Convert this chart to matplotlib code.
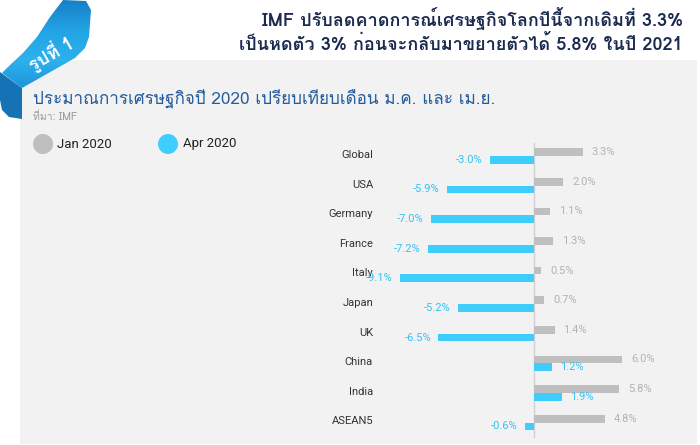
import numpy as np
import matplotlib
matplotlib.use("Agg")
import matplotlib.pyplot as plt
from matplotlib import font_manager
from matplotlib.ft2font import FT2Font
from matplotlib.patches import Polygon, Circle, Rectangle
from matplotlib.colors import LinearSegmentedColormap

# data
countries = ['Global', 'USA', 'Germany', 'France', 'Italy',
             'Japan', 'UK', 'China', 'India', 'ASEAN5']
jan_2020 = [3.3, 2.0, 1.1, 1.3, 0.5, 0.7, 1.4, 6.0, 5.8, 4.8]
apr_2020 = [-3.0, -5.9, -7.0, -7.2, -9.1, -5.2, -6.5, 1.2, 1.9, -0.6]

title_lines = ['IMF ปรับลดคาดการณ์เศรษฐกิจโลกปีนี้จากเดิมที่ 3.3%',
               'เป็นหดตัว 3% ก่อนจะกลับมาขยายตัวได้ 5.8% ในปี 2021']
subtitle = 'ประมาณการเศรษฐกิจปี 2020 เปรียบเทียบเดือน ม.ค. และ เม.ย.'
source = 'ที่มา: IMF'
badge = 'รูปที่ 1'

# find a font that has thai glyphs
thai_font = None
for f in font_manager.fontManager.ttflist:
    try:
        if ord('ป') in FT2Font(f.fname).get_charmap():
            thai_font = f.name
            break
    except Exception:
        pass

fams = ['Roboto', 'DejaVu Sans']
thai_fams = ([thai_font] if thai_font else []) + ['DejaVu Sans']

GRAY = '#bfbfbf'
BLUE = '#3fcdfd'
GRAY_TXT = '#b3b3b3'
BLUE_TXT = '#35c3f3'
NAVY = '#1b2b50'

fig = plt.figure(figsize=(7, 4.45), dpi=100)
fig.patch.set_facecolor('white')

# background / decoration layer in pixel coordinates
bg = fig.add_axes([0, 0, 1, 1], zorder=0)
bg.axis('off')

bg.add_patch(Rectangle((20, 60), 677, 384, facecolor='#f2f2f2',
                       edgecolor='none', zorder=0.5))

# ribbon (curl behind + band with a soft gradient)
bg.add_patch(Polygon([(0, 72), (22, 88), (22, 119), (9, 117), (2, 110), (0, 100)],
                     closed=True, facecolor='#1573b5', edgecolor='none', zorder=1))
band = Polygon([(63, 0), (86, 1), (91, 10), (89, 37), (85, 48), (75, 58),
                (22, 88), (2, 73), (10, 65), (23, 53), (37, 37), (50, 17)],
               closed=True, facecolor='none', edgecolor='none')
bg.add_patch(band)
ribbon_cmap = LinearSegmentedColormap.from_list(
    'rib', ['#1780c8', '#23a3e4', '#2db2ee', '#1c92da'])
grad = np.linspace(0, 1, 100).reshape(-1, 1)
im = bg.imshow(grad, cmap=ribbon_cmap, extent=(0, 92, 90, 0), aspect='auto',
               interpolation='bicubic', zorder=2)
im.set_clip_path(band)
bg.set_xlim(0, 700)
bg.set_ylim(445, 0)
bg.text(51, 53, badge, rotation=30, color='white', fontsize=13, fontweight='bold',
        ha='center', va='center', family=thai_fams, zorder=3)

for i, line in enumerate(title_lines):
    bg.text(683, 18 + 26 * i, line, ha='right', va='center', fontsize=13,
            fontweight='bold', color=NAVY, family=thai_fams, zorder=3)

bg.text(33, 99, subtitle, ha='left', va='center', fontsize=12.3,
        color='#245c9c', family=thai_fams, zorder=3)
bg.text(33, 117, source, ha='left', va='center', fontsize=7.5,
        color='#9a9a9a', family=thai_fams, zorder=3)

# legend
bg.add_patch(Circle((43, 144), 10, facecolor=GRAY, edgecolor='none', zorder=3))
bg.text(57, 144, 'Jan 2020', ha='left', va='center', fontsize=9.5,
        color='#222222', family=fams, zorder=3)
bg.add_patch(Circle((168, 144), 10, facecolor=BLUE, edgecolor='none', zorder=3))
bg.text(183, 144, 'Apr 2020', ha='left', va='center', fontsize=9.5,
        color='#222222', family=fams, zorder=3)

# bar chart
ax = fig.add_axes([0.5429, 0.0112, 0.4429, 0.6742], zorder=2)
ax.patch.set_alpha(0)
y = np.arange(len(countries))
h = 0.26
ax.barh(y - h / 2, jan_2020, height=h, color=GRAY, zorder=2)
ax.barh(y + h / 2, apr_2020, height=h, color=BLUE, zorder=2)
ax.axvline(0, ymin=0.01, ymax=0.99, color='#d0d0d0', lw=1, zorder=1)

ax.set_xlim(-10.476, 10.612)
ax.set_ylim(9.59, -0.54)

for yi, v in zip(y, jan_2020):
    ax.text(v + 0.6, yi - h / 2, f'{v:.1f}%', ha='left', va='center',
            fontsize=8, color=GRAY_TXT, family=fams)
for yi, v in zip(y, apr_2020):
    if v < 0:
        ax.text(v - 0.5, yi + h / 2, f'{v:.1f}%', ha='right', va='center',
                fontsize=8, color=BLUE_TXT, family=fams)
    else:
        ax.text(v + 0.55, yi + h / 2, f'{v:.1f}%', ha='left', va='center',
                fontsize=8, color=BLUE_TXT, family=fams)

ax.set_yticks(y - 0.07)
ax.set_yticklabels(countries, fontsize=8, color='#333333', family=fams)
ax.tick_params(axis='y', length=0, pad=5)
ax.set_xticks([])
for s in ax.spines.values():
    s.set_visible(False)

fig.savefig('out.png', dpi=100)
